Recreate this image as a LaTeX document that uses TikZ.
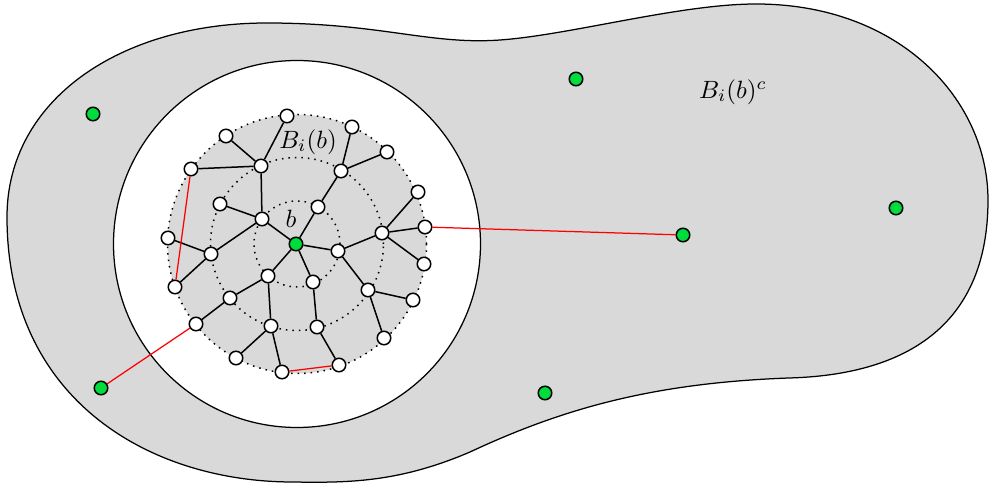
\documentclass[tikz,border=0pt]{standalone}
\definecolor{ptgreen}{RGB}{0,220,60}
\begin{document}
\begin{tikzpicture}[x=0.4pt,y=-0.4pt,
  vtx/.style={circle,draw=black,fill=white,line width=0.6pt,minimum size=5.4pt,inner sep=0pt},
  gvtx/.style={circle,draw=black,fill=ptgreen,line width=0.6pt,minimum size=5.4pt,inner sep=0pt},
  edge/.style={line width=0.6pt},
  redge/.style={red,line width=0.5pt},
  ring/.style={dotted,line width=0.6pt}]
\useasboundingbox (0,0) rectangle (989,485);
% outer blob
\draw[line width=0.5pt,fill=gray!30]
  (7,217) .. controls (7,100) and (120,23) .. (267,23)
  .. controls (380,23) and (430,45) .. (500,40)
  .. controls (570,35) and (680,4) .. (756,4)
  .. controls (900,4) and (988,100) .. (988,200)
  .. controls (988,330) and (900,375) .. (789,378)
  .. controls (650,383) and (560,410) .. (470,452)
  .. controls (400,482) and (350,483) .. (293,482)
  .. controls (150,482) and (7,400) .. (7,217) -- cycle;
% big white disc
\draw[line width=0.5pt,fill=white] (297,244) circle[radius=73.4pt];
% inner ball
\fill[gray!30] (297,244) circle[radius=51.8pt];
\draw[ring] (297,244) circle[radius=51.8pt];
\draw[ring] (297,244) circle[radius=34.6pt];
\draw[ring] (297,244) circle[radius=17.2pt];
% vertices
\node[gvtx] (c) at (296,244) {};
\node[vtx] (n1) at (287,116) {};
\node[vtx] (n2) at (226,136) {};
\node[vtx] (n3) at (352,127) {};
\node[vtx] (n4) at (191,169) {};
\node[vtx] (n5) at (261,166) {};
\node[vtx] (n6) at (387,152) {};
\node[vtx] (n7) at (341,171) {};
\node[vtx] (n8) at (220,204) {};
\node[vtx] (n9) at (262,219) {};
\node[vtx] (n10) at (318,207) {};
\node[vtx] (n11) at (418,192) {};
\node[vtx] (n12) at (425,227) {};
\node[vtx] (n13) at (382,233) {};
\node[vtx] (n14) at (168,238) {};
\node[vtx] (n15) at (211,254) {};
\node[vtx] (n16) at (338,251) {};
\node[vtx] (n17) at (424,264) {};
\node[vtx] (n18) at (268,276) {};
\node[vtx] (n19) at (313,282) {};
\node[vtx] (n20) at (175,287) {};
\node[vtx] (n21) at (230,298) {};
\node[vtx] (n22) at (368,290) {};
\node[vtx] (n23) at (413,300) {};
\node[vtx] (n24) at (196,324) {};
\node[vtx] (n25) at (271,326) {};
\node[vtx] (n26) at (317,327) {};
\node[vtx] (n27) at (384,338) {};
\node[vtx] (n28) at (236,358) {};
\node[vtx] (n29) at (282,372) {};
\node[vtx] (n30) at (339,365) {};
\node[gvtx] (g1) at (93,114) {};
\node[gvtx] (g2) at (101,388) {};
\node[gvtx] (g3) at (576,79) {};
\node[gvtx] (g4) at (683,235) {};
\node[gvtx] (g5) at (896,208) {};
\node[gvtx] (g6) at (545,393) {};
% edges
\foreach \a/\b in {n1/n5,n2/n5,n4/n5,n5/n9,n8/n9,n9/c,n9/n15,n14/n15,n15/n20,c/n18,n18/n21,n21/n24,n18/n25,n25/n28,n25/n29,c/n19,n19/n26,n26/n30,c/n16,n16/n13,n16/n22,n22/n23,n22/n27,n13/n17,n13/n12,n13/n11,c/n10,n10/n7,n7/n3,n7/n6}
  \draw[edge] (\a) -- (\b);
\foreach \a/\b in {n4/n20,n24/g2,n29/n30,n12/g4}
  \draw[redge] (\a) -- (\b);
% labels
\node (lb) at (291,219) {$b$};
\node (lB) at (308,142) {$B_i(b)$};
\node (lBc) at (733,92) {$B_i(b)^c$};
\end{tikzpicture}
\end{document}
